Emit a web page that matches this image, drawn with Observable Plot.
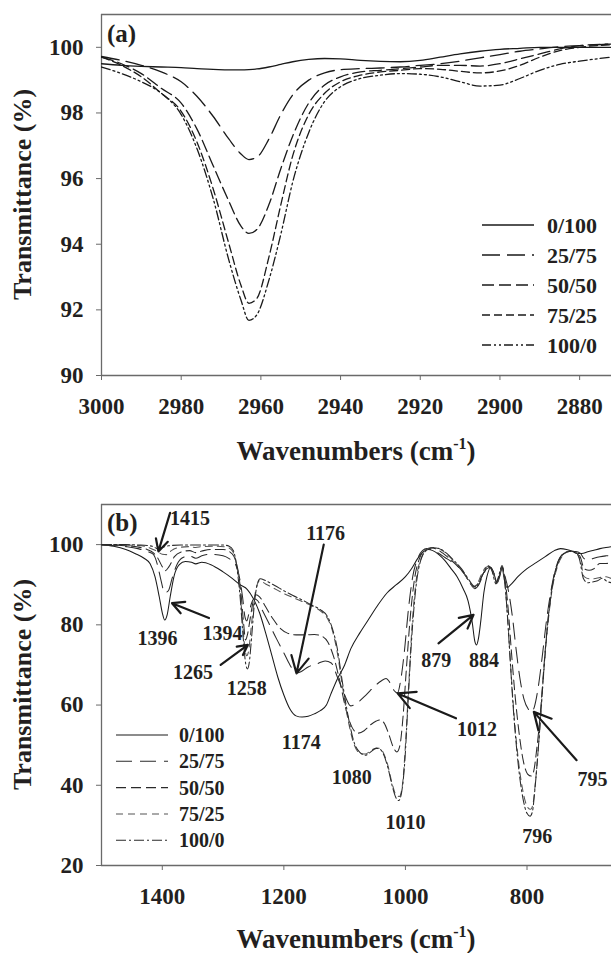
<!DOCTYPE html>
<html><head><meta charset="utf-8">
<script src="https://cdn.jsdelivr.net/npm/d3@7"></script>
<script src="https://cdn.jsdelivr.net/npm/@observablehq/plot@0.6"></script>
<style>
html,body{margin:0;padding:0;background:#fff;}
#wrap{width:611px;}
#wrap svg{display:block;}
</style></head>
<body><div id="wrap"></div>
<script>
const FONT = "'Liberation Serif','Times New Roman',serif";
const INK = "#231f20";
const AXIS = "#6a6a6a";

// ---------- Series names ----------
const seriesNames = ["0/100", "25/75", "50/50", "75/25", "100/0"];

// ---------- Panel (a): 3000-2872 cm-1 ----------
const wnA = [3000, 2995, 2990, 2985, 2980, 2976, 2972, 2968, 2965, 2963, 2961, 2958, 2955, 2952, 2948,
             2944, 2940, 2935, 2930, 2925, 2920, 2915, 2910, 2905, 2900, 2895, 2890, 2885, 2880, 2872];
const a_0_100 = [99.5, 99.45, 99.42, 99.4, 99.38, 99.35, 99.33, 99.31, 99.31, 99.32, 99.34, 99.4, 99.48, 99.56, 99.63,
                 99.66, 99.65, 99.6, 99.57, 99.56, 99.6, 99.7, 99.8, 99.88, 99.94, 99.97, 100.0, 100.0, 100.0, 100.0];
const a_25_75 = [99.72, 99.6, 99.45, 99.25, 98.95, 98.5, 97.9, 97.2, 96.75, 96.58, 96.65, 97.2, 97.95, 98.55, 99.0,
                 99.22, 99.32, 99.35, 99.37, 99.4, 99.45, 99.5, 99.58, 99.68, 99.78, 99.88, 99.95, 100.02, 100.05, 100.1];
const a_50_50 = [99.7, 99.5, 99.2, 98.75, 98.3, 97.5, 96.4, 95.3, 94.55, 94.33, 94.45, 95.2, 96.3, 97.3, 98.3,
                 98.85, 99.1, 99.25, 99.3, 99.35, 99.4, 99.45, 99.45, 99.43, 99.5, 99.65, 99.8, 99.95, 100.05, 100.1];
const a_75_25 = [99.7, 99.45, 99.1, 98.6, 98.05, 97.1, 95.7, 94.0, 92.75, 92.2, 92.35, 93.6, 95.2, 96.7, 97.95,
                 98.6, 98.95, 99.15, 99.25, 99.3, 99.35, 99.33, 99.27, 99.22, 99.28, 99.45, 99.7, 99.9, 100.0, 100.08];
const a_100_0 = [99.4, 99.2, 98.95, 98.6, 97.95, 96.9, 95.4, 93.5, 92.3, 91.68, 91.85, 92.9, 94.3, 95.9, 97.4,
                 98.35, 98.8, 99.05, 99.15, 99.2, 99.18, 99.1, 98.95, 98.82, 98.85, 99.05, 99.3, 99.48, 99.58, 99.7];
const xTicksA = [3000, 2980, 2960, 2940, 2920, 2900, 2880];
const yTicksA = [90, 92, 94, 96, 98, 100];
const xDomainA = [3000, 2872];
const yDomainA = [90, 101];

// ---------- Panel (b): 1500-661 cm-1, [wavenumber, transmittance] ----------
const b_0_100 = [[1500,100],[1480,99.6],[1460,98.8],[1445,97.8],[1430,96.6],[1420,95.2],[1412,92],[1405,87],[1400,83],
  [1396,81.2],[1392,82.5],[1387,87],[1380,92.5],[1372,95],[1362,95.8],[1352,95.6],[1345,95.2],[1335,95.6],[1320,95],
  [1300,93.2],[1285,91.6],[1272,90],[1260,88.8],[1250,86.5],[1240,83],[1230,78],[1220,72.5],[1210,67],[1200,62.5],
  [1190,59],[1180,57.3],[1170,57],[1160,57.2],[1150,57.8],[1140,58.6],[1130,60],[1122,63],[1112,66.5],[1100,70],
  [1090,74],[1075,78],[1060,81.5],[1045,85],[1030,88],[1015,90],[1000,92],[990,94],[980,96.5],[970,98.3],[962,98.8],
  [955,98.5],[945,97.5],[935,96],[925,94],[915,92],[905,89],[897,86],[890,80.5],[886,76],[883,75],[880,76.5],[876,81],
  [871,88],[866,92],[860,94.3],[855,93],[849,90.5],[845,92],[841,94.2],[837,91],[833,89.3],[825,90.3],[815,92],
  [800,94],[785,95.5],[770,97],[755,98.5],[745,99],[735,98.8],[725,98.3],[718,97.8],[710,97.8],[700,98.2],[690,98.6],
  [680,99],[670,99.3],[661,99.5]];
const b_25_75 = [[1500,100],[1480,99.8],[1460,99.5],[1440,99],[1425,98.3],[1415,97.6],[1408,95],[1402,91],[1396,88],
  [1390,88.5],[1384,91.5],[1376,95],[1366,96.8],[1355,97.2],[1345,96.6],[1335,97.2],[1320,97.6],[1300,97.2],[1290,96.5],
  [1280,95.2],[1274,92.5],[1268,87],[1264,82],[1261,81],[1258,82.5],[1254,85],[1249,86.5],[1243,86],[1235,83.5],
  [1225,80.5],[1212,76.5],[1200,73],[1190,70],[1180,68],[1172,68.3],[1160,69.5],[1145,70.3],[1132,71],[1122,70.5],
  [1112,67],[1100,62.5],[1090,59.8],[1080,60.5],[1065,62.5],[1050,64.8],[1040,66],[1032,66.6],[1025,65.5],[1018,63.5],
  [1013,63],[1008,66],[1002,73],[995,84],[988,92],[980,96.5],[972,98.5],[965,99],[955,98.6],[945,97.8],[935,96.8],
  [922,95.5],[910,94],[900,92],[892,90],[886,89],[880,89.8],[872,92.5],[866,94],[860,94.3],[855,93],[850,90.8],
  [845,92.5],[841,94.3],[836,92],[830,88],[824,82],[818,74],[812,67],[805,61.5],[798,59],[792,58.3],[788,59.5],
  [782,64],[775,72],[768,81],[760,89],[752,94.5],[742,97.5],[730,98.3],[720,98.3],[712,97.8],[706,96.5],[698,96.2],
  [690,96.6],[680,97],[670,97.2],[661,97.3]];
const b_50_50 = [[1500,100],[1480,99.9],[1460,99.7],[1440,99.4],[1425,98.8],[1415,98],[1408,96.8],[1400,94.5],
  [1395,93.5],[1389,94.5],[1380,97],[1368,98.2],[1355,98.5],[1345,98],[1335,98.4],[1320,98.8],[1300,98.8],[1290,98.3],
  [1282,97],[1276,94],[1270,87],[1266,80],[1263,76.2],[1260,77.5],[1256,81],[1251,85.5],[1246,87.5],[1240,87],
  [1230,84.5],[1218,81.5],[1205,79],[1195,78],[1180,77.5],[1165,77.5],[1150,77.6],[1138,77.2],[1128,75.8],[1118,72],
  [1108,66],[1098,59],[1088,54.5],[1078,53],[1068,53.6],[1058,55],[1048,56],[1042,56.3],[1035,55.5],[1028,53],
  [1020,49.5],[1014,48.3],[1009,50],[1004,57],[998,70],[992,82],[985,91.5],[977,96.5],[968,98.6],[958,99.2],
  [948,98.8],[938,97.8],[926,96.3],[914,94.6],[902,92.5],[893,90.2],[887,89.5],[881,90.2],[873,92.5],[866,94.2],
  [861,94.5],[855,93],[850,90.5],[845,92.6],[841,94.5],[836,91],[831,84],[826,74],[820,63],[813,53],[806,46],
  [799,42.8],[793,42.3],[789,43.5],[784,49],[778,58],[772,70],[765,82],[757,91],[748,96],[738,98],[728,98.4],
  [720,98.2],[712,96.8],[706,94],[698,93.6],[690,94],[680,95.3],[670,95.3],[661,95.5]];
const b_75_25 = [[1500,100],[1480,100],[1460,99.9],[1440,99.8],[1425,99.4],[1415,98.8],[1408,98.3],[1400,97.6],
  [1393,97.5],[1385,98.5],[1372,99.3],[1355,99.5],[1345,99.3],[1335,99.5],[1310,99.6],[1295,99.4],[1285,98.5],
  [1279,96],[1273,90],[1268,81],[1264,74],[1261,72.3],[1258,73.5],[1254,79],[1249,86],[1244,90],[1240,91],
  [1230,90.2],[1215,89],[1200,87.8],[1185,86.8],[1170,85.8],[1155,84.8],[1140,83.5],[1128,81.5],[1120,78.5],
  [1112,73],[1104,65],[1094,56],[1084,50],[1075,48],[1066,47.8],[1058,48.5],[1048,49.3],[1042,49.2],[1036,48],
  [1029,45],[1022,40.5],[1015,37.5],[1010,37.2],[1005,40],[1000,50],[995,64],[989,80],[982,91.5],[973,97],[963,99],
  [952,99.3],[942,98.8],[930,97.3],[918,95.5],[906,93.4],[896,91],[889,89.6],[883,90],[875,92.5],[868,94.3],
  [862,94.6],[856,93],[850,90.3],[845,92.6],[841,94.6],[837,91],[832,82],[827,70],[821,57],[814,46],[806,38],
  [799,34.5],[794,34],[790,35.5],[786,41],[780,52],[774,65],[767,78],[759,88.5],[750,94.5],[740,97.5],[730,98.3],
  [720,98.2],[712,96],[706,92],[698,91.5],[690,91.5],[680,91.8],[670,92],[661,91.5]];
const b_100_0 = [[1500,100],[1480,100],[1460,100],[1440,99.9],[1425,99.8],[1415,99.5],[1408,99],[1400,99.3],
  [1390,99.7],[1370,99.9],[1345,99.9],[1320,99.9],[1300,99.9],[1290,99.6],[1283,98.5],[1278,95],[1272,87],[1267,77],
  [1263,70.5],[1260,69],[1257,70.5],[1253,77],[1248,86],[1243,90.5],[1239,91.5],[1230,91],[1215,89.8],[1200,88.5],
  [1185,87.3],[1170,86.2],[1155,85],[1140,83.8],[1128,82],[1120,79],[1112,74],[1104,66],[1094,57],[1084,50.5],
  [1075,48.2],[1066,47.5],[1058,48.2],[1048,49.2],[1042,49],[1036,47.7],[1029,44.5],[1022,40],[1016,37],[1011,36.2],
  [1006,38.5],[1001,46],[996,60],[990,76],[983,89],[975,96],[965,98.6],[954,99.2],[944,99],[932,97.8],[920,96],
  [908,94],[898,91.8],[890,90],[884,89.3],[878,90.8],[870,93.4],[864,94.7],[858,93.6],[851,90.2],[846,92.5],
  [841,94.8],[837,91.5],[833,84],[828,72],[822,58],[815,46],[807,37],[800,33],[795,32.3],[791,33.5],[787,39],
  [781,50],[775,63],[768,77],[760,88],[751,94.5],[741,97.5],[731,98.3],[722,98.3],[714,96.5],[707,91.5],[700,90.5],
  [692,90.7],[684,91],[676,91.6],[668,90.8],[661,90.5]];
const xTicksB = [1400, 1200, 1000, 800];
const yTicksB = [20, 40, 60, 80, 100];
const xDomainB = [1500, 661];
const yDomainB = [20, 110];

// Peak labels (b)
const annotText = ["1415","1396","1394","1265","1258","1176","1174","1080","1010","1012","879","884","796","795"];
const annotWn   = [1354.6,1407.7,1300.8,1349.4,1261.1,1131.2,1171.5,1088.3,1000,882.2,949.4,870.7,783,692.2];
const annotT    = [106.4,76.5,77.75,68.2,64,102.75,50.7,41.9,30.7,54,71.1,71.1,27.3,41.5];
// Arrows (b): from -> to
const arrowWn1 = [1387.2,1323.2,1304,1134.4,916.8,945.6,718.4];
const arrowT1  = [107.9,81.7,70,100,56.7,75.4,46.25];
const arrowWn2 = [1406.4,1384,1259.2,1179.2,1012.8,888,788.8];
const arrowT2  = [98.3,85.4,75,67.9,62.9,82.5,58.3];

// ---------- Styles ----------
const dashA = [null, "18,7", "12,5", "8,4", "9,3,2,3,2,3"];
const dashB = [null, "16,8", "10,5", "7,5", "10,3,2,3"];
const colorB = ["#1a1a1a", "#2a2a2a", "#2a2a2a", "#555", "#2a2a2a"];

const wrap = document.getElementById("wrap");

function addTexts(svg, o) {
  const s = d3.select(svg);
  // panel letter
  s.append("text").attr("x", 107).attr("y", o.letterY).attr("text-anchor", "start")
    .attr("font-family", FONT).attr("font-size", 25).attr("font-weight", "bold").attr("fill", INK)
    .text(o.letter);
  // x title
  const t = s.append("text").attr("x", 356).attr("y", o.xTitleY).attr("text-anchor", "middle")
    .attr("font-family", FONT).attr("font-size", 27).attr("font-weight", "bold").attr("fill", INK);
  t.append("tspan").text("Wavenumbers (cm");
  t.append("tspan").attr("dy", -11).attr("font-size", 16).text("-1");
  t.append("tspan").attr("dy", 11).text(")");
  // y title
  s.append("text").attr("transform", `translate(31,${o.yTitleY}) rotate(-90)`).attr("text-anchor", "middle")
    .attr("font-family", FONT).attr("font-size", 26).attr("font-weight", "bold").attr("fill", INK)
    .text("Transmittance (%)");
  // legend
  const g = s.append("g");
  seriesNames.forEach((name, i) => {
    const y = o.legY0 + i * o.legStep;
    g.append("line").attr("x1", o.legX1).attr("x2", o.legX2).attr("y1", y).attr("y2", y)
      .attr("stroke", o.colors[i]).attr("stroke-width", o.sw)
      .attr("stroke-dasharray", o.dash[i] || null);
    g.append("text").attr("x", o.legTX).attr("y", y).attr("dy", "0.35em").attr("text-anchor", "start")
      .attr("font-family", FONT).attr("font-size", o.legFont).attr("font-weight", "bold").attr("fill", INK)
      .text(name);
  });
}

// ---------- Panel (a) ----------
const seriesA = [a_0_100, a_25_75, a_50_50, a_75_25, a_100_0];
const linesA = seriesA.map((vals, i) =>
  Plot.line(wnA.map((w, j) => ({wn: w, t: vals[j]})), {
    x: "wn", y: "t", stroke: "#1a1a1a", strokeWidth: 1.3,
    strokeDasharray: dashA[i] || undefined, curve: "monotone-x", clip: true
  }));

const svgA = Plot.plot({
  width: 611, height: 477,
  marginLeft: 101, marginRight: 0, marginTop: 14, marginBottom: 102,
  style: {fontFamily: FONT, fontSize: "23px", fontWeight: "bold", color: INK, background: "white"},
  x: {domain: xDomainA},
  y: {domain: yDomainA},
  marks: [
    Plot.ruleY([yDomainA[1]], {stroke: AXIS, strokeWidth: 1.3}),
    Plot.ruleY([yDomainA[0]], {stroke: AXIS, strokeWidth: 1.3}),
    Plot.ruleX([xDomainA[0]], {stroke: AXIS, strokeWidth: 1.3}),
    Plot.axisX({ticks: xTicksA, tickSize: 5, tickPadding: 17, tickFormat: d => String(d), stroke: AXIS, fill: INK, label: null}),
    Plot.axisY({ticks: yTicksA, tickSize: 5, tickPadding: 13, tickFormat: d => String(d), stroke: AXIS, fill: INK, label: null}),
    ...linesA
  ]
});
addTexts(svgA, {letter: "(a)", letterY: 42, xTitleY: 460, yTitleY: 194.5,
  legX1: 482, legX2: 534, legTX: 547, legY0: 225, legStep: 30, legFont: 22, dash: dashA,
  colors: ["#1a1a1a","#1a1a1a","#1a1a1a","#1a1a1a","#1a1a1a"], sw: 1.3});
wrap.appendChild(svgA);

// ---------- Panel (b) ----------
const seriesB = [b_0_100, b_25_75, b_50_50, b_75_25, b_100_0];
const linesB = seriesB.map((pairs, i) =>
  Plot.line(pairs.map(([w, t]) => ({wn: w, t})), {
    x: "wn", y: "t", stroke: colorB[i], strokeWidth: 1.05,
    strokeDasharray: dashB[i] || undefined, curve: "monotone-x", clip: true
  }));
const annots = annotText.map((s, i) => ({s, wn: annotWn[i], t: annotT[i]}));
const arrows = arrowWn1.map((w, i) => ({x1: w, y1: arrowT1[i], x2: arrowWn2[i], y2: arrowT2[i]}));

const svgB = Plot.plot({
  width: 611, height: 476,
  marginLeft: 101, marginRight: 0, marginTop: 27, marginBottom: 88,
  style: {fontFamily: FONT, fontSize: "23px", fontWeight: "bold", color: INK, background: "white"},
  x: {domain: xDomainB},
  y: {domain: yDomainB},
  marks: [
    Plot.ruleY([yDomainB[1]], {stroke: AXIS, strokeWidth: 1.3}),
    Plot.ruleY([yDomainB[0]], {stroke: AXIS, strokeWidth: 1.3}),
    Plot.ruleX([xDomainB[0]], {stroke: AXIS, strokeWidth: 1.3}),
    Plot.axisX({ticks: xTicksB, tickSize: 5, tickPadding: 17, tickFormat: d => String(d), stroke: AXIS, fill: INK, label: null}),
    Plot.axisY({ticks: yTicksB, tickSize: 5, tickPadding: 13, tickFormat: d => String(d), stroke: AXIS, fill: INK, label: null}),
    ...linesB,
    Plot.arrow(arrows, {x1: "x1", y1: "y1", x2: "x2", y2: "y2", stroke: "#1a1a1a", strokeWidth: 2.2,
      headLength: 13, headAngle: 55, bend: false}),
    Plot.text(annots, {x: "wn", y: "t", text: "s", fontSize: 20, fontWeight: "bold", fill: INK,
      textAnchor: "middle", lineAnchor: "middle"})
  ]
});
addTexts(svgB, {letter: "(b)", letterY: 54, xTitleY: 471, yTitleY: 207.5,
  legX1: 116, legX2: 168, legTX: 179, legY0: 258, legStep: 26.3, legFont: 20, dash: dashB,
  colors: colorB, sw: 1.05});
wrap.appendChild(svgB);
</script>
</body></html>
